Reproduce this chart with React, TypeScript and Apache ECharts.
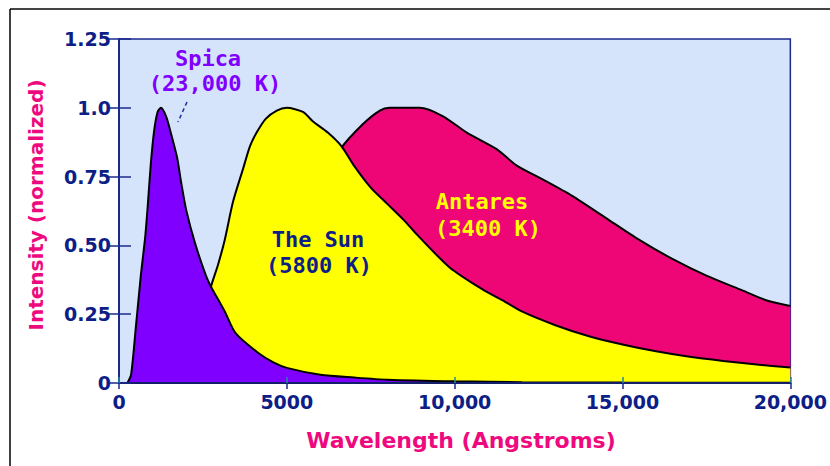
import React, { useEffect, useRef } from "react";
import * as echarts from "echarts";

// [wavelength (Å), normalized intensity]
const spica: [number, number][] = [
  [250, 0], [360, 0.03], [500, 0.2], [650, 0.39], [780, 0.53], [860, 0.65], [950, 0.8],
  [1050, 0.92], [1150, 0.985], [1250, 1.0], [1400, 0.97], [1520, 0.92], [1730, 0.82],
  [1850, 0.73], [2000, 0.63], [2260, 0.51], [2590, 0.39], [2740, 0.35], [3150, 0.26],
  [3480, 0.18], [4140, 0.11], [4600, 0.075], [5000, 0.055], [6000, 0.03], [7000, 0.02],
  [8000, 0.012], [10000, 0.006], [12000, 0.003], [15000, 0.0015], [20000, 0.0005],
];

const sun: [number, number][] = [
  [1800, 0], [2200, 0.1], [2500, 0.22], [2740, 0.35], [2950, 0.43], [3150, 0.52],
  [3400, 0.66], [3700, 0.78], [3900, 0.86], [4100, 0.91], [4370, 0.96], [4700, 0.99],
  [5000, 1.0], [5480, 0.985], [5780, 0.95], [6220, 0.91], [6630, 0.86], [7000, 0.79],
  [7500, 0.71], [8000, 0.65], [8500, 0.59], [8870, 0.54], [9850, 0.42], [10830, 0.34],
  [11430, 0.3], [12000, 0.26], [13000, 0.21], [14000, 0.17], [15000, 0.14],
  [16000, 0.115], [17000, 0.095], [18000, 0.08], [19000, 0.067], [20000, 0.056],
];

const antares: [number, number][] = [
  [2500, 0], [3000, 0.03], [4000, 0.16], [5000, 0.43], [6000, 0.71], [6600, 0.85],
  [7260, 0.94], [7770, 0.99], [8060, 1.0], [8500, 1.0], [8960, 1.0], [9640, 0.97],
  [10360, 0.91], [11250, 0.85], [11850, 0.79], [12620, 0.74], [13500, 0.68],
  [14500, 0.6], [15500, 0.52], [16500, 0.45], [17500, 0.39], [18500, 0.34],
  [19300, 0.3], [20000, 0.28],
];

const xTickLabels = ["0", "5000", "10,000", "15,000", "20,000"];
const yTickLabels = ["0", "0.25", "0.50", "0.75", "1.0", "1.25"];

const NAVY = "#0d1e87";
const AXIS = "#1a2a8c";
const MAGENTA = "#ee0a7e";

export default function App() {
  const ref = useRef<HTMLDivElement>(null);
  useEffect(() => {
    if (!ref.current) return;
    const chart = echarts.init(ref.current, undefined, { renderer: "svg" });
    const labelFont = { color: NAVY, fontWeight: "bold" as const, fontSize: 19, fontFamily: "DejaVu Sans" };
    const mkSeries = (name: string, data: [number, number][], color: string, z: number) => ({
      name,
      type: "line",
      data,
      z,
      smooth: 0.25,
      showSymbol: false,
      symbol: "none",
      lineStyle: { color: "#000", width: 2 },
      itemStyle: { color },
      areaStyle: { color, opacity: 1, origin: "start" },
    });
    chart.setOption({
      animation: false,
      grid: {
        left: 119, right: 38, top: 39, bottom: 83,
        show: true, backgroundColor: "#d6e4fb", borderColor: AXIS, borderWidth: 1.5,
      },
      xAxis: [
        {
          type: "value", min: 0, max: 20000, interval: 5000, position: "bottom", z: 10,
          axisLine: { show: true, lineStyle: { color: "#000", width: 2 } },
          axisTick: { show: true, inside: true, length: 6, lineStyle: { color: "#1f8a9f", width: 1.5 } },
          axisLabel: { ...labelFont, margin: 9, formatter: (v: number) => xTickLabels[Math.round(v / 5000)] ?? "" },
          splitLine: { show: false },
        },
        {
          type: "value", min: 0, max: 20000, interval: 5000, position: "top", z: 10,
          axisLine: { show: true, lineStyle: { color: AXIS, width: 1.5 } },
          axisTick: { show: true, inside: true, length: 6, lineStyle: { color: AXIS, width: 1.5 } },
          axisLabel: { show: false },
          splitLine: { show: false },
        },
      ],
      yAxis: [
        {
          type: "value", min: 0, max: 1.25, interval: 0.25, position: "left", z: 10,
          axisLine: { show: true, lineStyle: { color: AXIS, width: 2 } },
          axisTick: { show: true, inside: true, length: 12, lineStyle: { color: AXIS, width: 1.5 } },
          axisLabel: { ...labelFont, margin: 8, formatter: (v: number) => yTickLabels[Math.round(v / 0.25)] ?? "" },
          splitLine: { show: false },
        },
        {
          type: "value", min: 0, max: 1.25, interval: 0.25, position: "right", z: 10,
          axisLine: { show: true, lineStyle: { color: AXIS, width: 2 } },
          axisTick: { show: true, inside: true, length: 12, lineStyle: { color: AXIS, width: 1.5 } },
          axisLabel: { show: false },
          splitLine: { show: false },
        },
      ],
      series: [
        mkSeries("Antares", antares, "#ee0677", 2),
        mkSeries("The Sun", sun, "#ffff00", 3),
        mkSeries("Spica", spica, "#7f00ff", 4),
      ],
      graphic: [
        { type: "line", shape: { x1: 10, y1: 9, x2: 830, y2: 9 }, style: { stroke: "#444", lineWidth: 2 } },
        { type: "line", shape: { x1: 10, y1: 9, x2: 10, y2: 466 }, style: { stroke: "#000", lineWidth: 1.5 } },
        {
          type: "text", x: 461, y: 440,
          style: { text: "Wavelength (Angstroms)", font: 'bold 22px "DejaVu Sans"', fill: MAGENTA, textAlign: "center", textVerticalAlign: "middle" },
        },
        {
          type: "text", x: 36, y: 205, rotation: Math.PI / 2,
          style: { text: "Intensity (normalized)", font: 'bold 20px "DejaVu Sans"', fill: MAGENTA, textAlign: "center", textVerticalAlign: "middle" },
        },
        {
          type: "text", x: 208, y: 58, z: 10,
          style: { text: "Spica", font: 'bold 22px "DejaVu Sans Mono"', fill: "#8000ff", textAlign: "center", textVerticalAlign: "middle" },
        },
        {
          type: "text", x: 215, y: 83, z: 10,
          style: { text: "(23,000 K)", font: 'bold 22px "DejaVu Sans Mono"', fill: "#8000ff", textAlign: "center", textVerticalAlign: "middle" },
        },
        { type: "line", z: 10, shape: { x1: 187, y1: 102, x2: 178, y2: 122 }, style: { stroke: "#2030a0", lineWidth: 1.5, lineDash: [4, 3] } },
        {
          type: "text", x: 318, y: 239, z: 10,
          style: { text: "The Sun", font: 'bold 22px "DejaVu Sans Mono"', fill: NAVY, textAlign: "center", textVerticalAlign: "middle" },
        },
        {
          type: "text", x: 319, y: 265, z: 10,
          style: { text: "(5800 K)", font: 'bold 22px "DejaVu Sans Mono"', fill: NAVY, textAlign: "center", textVerticalAlign: "middle" },
        },
        {
          type: "text", x: 482, y: 201, z: 10,
          style: { text: "Antares", font: 'bold 22px "DejaVu Sans Mono"', fill: "#ffff00", textAlign: "center", textVerticalAlign: "middle" },
        },
        {
          type: "text", x: 488, y: 228, z: 10,
          style: { text: "(3400 K)", font: 'bold 22px "DejaVu Sans Mono"', fill: "#ffff00", textAlign: "center", textVerticalAlign: "middle" },
        },
      ],
    });
    return () => chart.dispose();
  }, []);
  return <div ref={ref} style={{ position: "fixed", left: 0, top: 0, width: 830, height: 466, background: "#fff" }} />;
}
